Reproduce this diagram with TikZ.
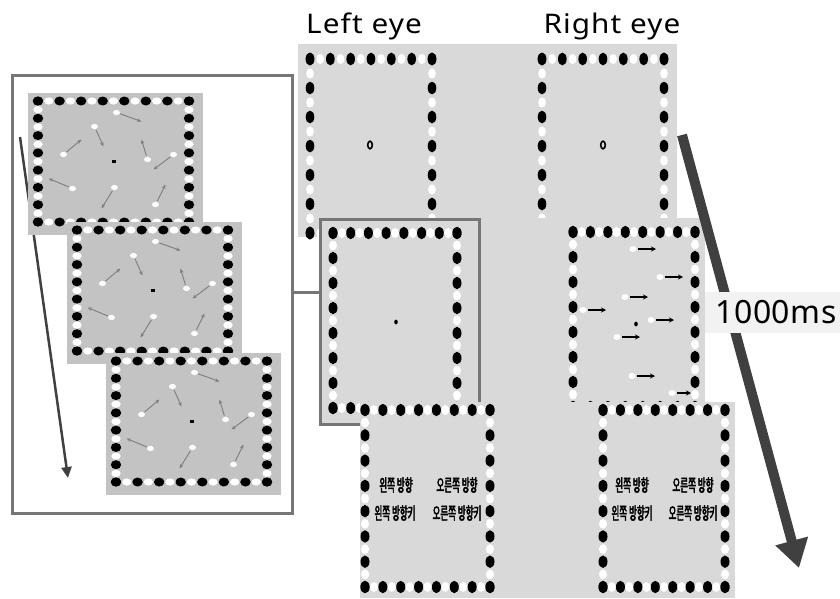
\documentclass[tikz,border=0pt]{standalone}
\usepackage{fontspec}
\usetikzlibrary{arrows.meta}
\newfontfamily\labfont[FakeStretch=1.1,LetterSpace=4]{Noto Sans}
\newfontfamily\msfont[LetterSpace=2]{Noto Sans}
\newfontfamily\krfont[FakeStretch=0.5,FakeBold=2.5]{Noto Sans CJK KR}
\definecolor{panel}{RGB}{217,217,217}
\definecolor{ipanel}{RGB}{195,195,195}
\definecolor{outl}{RGB}{118,118,118}
\definecolor{darkarr}{RGB}{64,64,64}
\definecolor{iarr}{RGB}{125,125,125}
% one side of a dotted border: start x,y ; end x,y ; half steps ; rx ; ry
\newcommand\dotside[7]{%
  \foreach \k in {0,...,#5}{%
    \ifodd\k\relax
      \pgfmathsetmacro\px{(#1)+((#3)-(#1))*\k/#5}%
      \pgfmathsetmacro\py{(#2)+((#4)-(#2))*\k/#5}%
      \fill[white] (\px,\py) ellipse [x radius=#6*0.9pt, y radius=#7*0.8pt];
    \fi}%
  \foreach \k in {0,...,#5}{%
    \ifodd\k\relax\else
      \pgfmathsetmacro\px{(#1)+((#3)-(#1))*\k/#5}%
      \pgfmathsetmacro\py{(#2)+((#4)-(#2))*\k/#5}%
      \fill[black] (\px,\py) ellipse [x radius=#6pt, y radius=#7pt];
    \fi}}
% dotted frame: x1 y1 x2 y2 ; halfsteps horiz ; halfsteps vert ; rx ; ry
\newcommand\dotframe[8]{%
  \dotside{#1}{#2}{#3}{#2}{#5}{#7}{#8}%
  \dotside{#1}{#4}{#3}{#4}{#5}{#7}{#8}%
  \dotside{#1}{#2}{#1}{#4}{#6}{#7}{#8}%
  \dotside{#3}{#2}{#3}{#4}{#6}{#7}{#8}}
% inset display: gray top-left corner x,y
\newcommand\insetdisplay[2]{%
  \fill[ipanel] (#1,#2) rectangle ++(175,142);
  \dotframe{#1+10}{#2+8}{#1+161}{#2+129}{14}{14}{5.2}{4.5}%
  \fill[black] ({#1+85.5-2},{#2+68.5-1.5}) rectangle ({#1+85.5+2},{#2+68.5+1.5});
  \foreach \ax/\ay/\bx/\by in {3/-49/28/-40, -19/-35/-10/-15, -50/-7/-32/-22,
      34/-2/28/-22, 60/-7/40/8, -41/27/-65/17, 1/26/-12/47, 42/43/52/23}{%
    \fill[white] ({#1+85.5+\ax},{#2+68.5+\ay}) ellipse [x radius=3.5pt, y radius=2.6pt];
    \draw[insetarrow] ({#1+85.5+\ax},{#2+68.5+\ay}) -- ({#1+85.5+\bx},{#2+68.5+\by});
  }}
\newcommand\motiondot[3]{% x y arrow length
  \fill[white] (#1,#2) ellipse [x radius=3.5pt, y radius=3pt];
  \draw[motionarrow] ({#1+5},#2) -- ({#1+5+#3},#2);}
\begin{document}
\begin{tikzpicture}[x=1pt,y=-1pt,
  insetarrow/.style={draw=iarr, line width=0.9pt, shorten <=4pt, -{Stealth[length=4.5pt,width=3.5pt]}},
  motionarrow/.style={draw=black, line width=1.4pt, -{Stealth[length=5pt,width=5pt]}},
  outlinebox/.style={draw=outl, line width=3pt, inner sep=0pt},
  eyelabel/.style={anchor=base, inner sep=0pt, font=\labfont\fontsize{27}{32}\selectfont},
  krtext/.style={inner sep=0pt, font=\krfont\fontsize{17}{19}\selectfont}]
\useasboundingbox (0,0) rectangle (840,598);
\fill[white] (0,0) rectangle (840,598);

% ---------- inset on the left ----------
\node[outlinebox, minimum width=280pt, minimum height=438pt] (inset) at (152,294) {};
\coordinate (iA) at (20,137);
\coordinate (iB) at (68,478);
\draw[darkarr, line width=2.5pt, -{Triangle[length=11pt,width=10pt]}] (iA) -- (iB);
\insetdisplay{28}{93}
\insetdisplay{67}{222}
\insetdisplay{106}{353}

% ---------- top layer ----------
\fill[panel] (298,44) rectangle (677,237);
\dotframe{310}{59}{432}{233}{12}{12}{4.3}{6.4}
\dotframe{542}{59}{664}{233}{12}{12}{4.3}{6.4}
\draw[black, line width=1.6pt] (370,145) ellipse [x radius=2.3pt, y radius=3.8pt];
\draw[black, line width=1.6pt] (603,145) ellipse [x radius=2.3pt, y radius=3.8pt];

% ---------- middle layer ----------
\fill[panel] (320,218) rectangle (705,424);
\dotframe{333}{233}{457}{408}{14}{14}{4.5}{6.2}
\dotframe{573}{232}{695}{407}{14}{14}{4.5}{6.2}
\node[outlinebox, minimum width=159pt, minimum height=205pt] (focus) at (399.5,321.5) {};
\fill[black] (396,322) ellipse [x radius=1.8pt, y radius=2.4pt];
\fill[black] (636,324) ellipse [x radius=1.8pt, y radius=2.4pt];
\motiondot{633}{249}{18}
\motiondot{660}{277}{18}
\motiondot{625}{297}{18}
\motiondot{583}{310}{18}
\motiondot{651}{320}{18}
\motiondot{617}{337}{18}
\motiondot{632}{376}{18}
\motiondot{672}{393}{14}

% ---------- bottom layer ----------
\fill[panel] (360,402) rectangle (735,598);
\dotframe{365}{410}{490}{587}{14}{14}{4.5}{6.2}
\dotframe{603}{410}{725}{587}{14}{14}{4.5}{6.2}
\node[krtext] (l1) at (396,485) {왼쪽 방향};
\node[krtext] (l2) at (457,485) {오른쪽 방향};
\node[krtext] (l3) at (395,513) {왼쪽 방향키};
\node[krtext] (l4) at (457,513) {오른쪽 방향키};
\node[krtext] (r1) at (632,485) {왼쪽 방향};
\node[krtext] (r2) at (693,485) {오른쪽 방향};
\node[krtext] (r3) at (632,513) {왼쪽 방향키};
\node[krtext] (r4) at (693,513) {오른쪽 방향키};

% ---------- connector from inset to focus box ----------
\coordinate (cy) at (0,292);
\draw[outl, line width=3pt] (inset.east |- cy) -- (focus.west |- cy);

% ---------- time arrow ----------
\coordinate (tA) at (682,135);
\coordinate (tB) at (799,568);
\draw[darkarr, line width=10pt, -{Triangle[length=28pt,width=32pt]}] (tA) -- (tB);
\node[fill=white!95!black, minimum width=135pt, minimum height=41pt, inner sep=0pt,
      font=\msfont\fontsize{32}{36}\selectfont] (ms) at (772.5,312.5) {\hspace*{7pt}1000ms};

% ---------- eye labels ----------
\node[eyelabel] (le) at (364,33) {Left eye};
\node[eyelabel] (re) at (612,33) {Right eye};
\end{tikzpicture}
\end{document}
